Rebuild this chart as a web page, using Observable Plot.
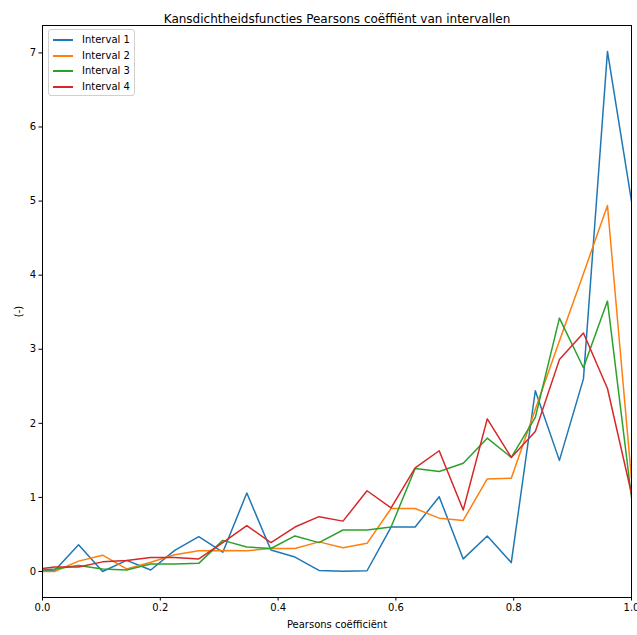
<!DOCTYPE html>
<html>
<head>
<meta charset="utf-8">
<script src="https://cdn.jsdelivr.net/npm/d3@7"></script>
<script src="https://cdn.jsdelivr.net/npm/@observablehq/plot@0.6"></script>
<style>
  body { margin: 0; background: #fff; font-family: "DejaVu Sans", sans-serif; }
  #wrap { position: relative; width: 637px; height: 635px; }
  #legend {
    position: absolute; left: 48px; top: 29px; width: 87px; height: 67px;
    border: 1px solid #d0d0d0; border-radius: 3px; background: rgba(255,255,255,0.8);
    font-size: 10px; color: #000; box-sizing: border-box;
  }
  .row { position: absolute; left: 0; height: 14px; }
  .sw { position: absolute; left: 4px; width: 20px; height: 2px; }
  .lab { position: absolute; left: 33px; white-space: nowrap; line-height: 14px; }
</style>
</head>
<body>
<div id="wrap"></div>
<script>
const xValues = [0, 0.0204, 0.0612, 0.102, 0.1429, 0.1837, 0.2245, 0.2653, 0.3061, 0.3469, 0.3878, 0.4286, 0.4694, 0.5102, 0.551, 0.5918, 0.6327, 0.6735, 0.7143, 0.7551, 0.7959, 0.8367, 0.8776, 0.9184, 0.9592, 1.0];
const interval1 = [0.01, 0.01, 0.36, 0.0, 0.15, 0.02, 0.285, 0.47, 0.26, 1.06, 0.29, 0.195, 0.015, 0.005, 0.01, 0.60, 0.60, 1.01, 0.17, 0.48, 0.12, 2.44, 1.50, 2.60, 7.02, 5.0];
const interval2 = [0.0, 0.0, 0.14, 0.22, 0.035, 0.125, 0.225, 0.28, 0.285, 0.28, 0.31, 0.31, 0.40, 0.32, 0.38, 0.85, 0.85, 0.72, 0.69, 1.25, 1.26, 2.19, 3.11, 4.02, 4.94, 1.25];
const interval3 = [0.02, 0.035, 0.08, 0.035, 0.02, 0.10, 0.10, 0.11, 0.42, 0.33, 0.31, 0.48, 0.39, 0.56, 0.56, 0.60, 1.39, 1.35, 1.46, 1.80, 1.54, 2.08, 3.42, 2.75, 3.65, 1.0];
const interval4 = [0.04, 0.06, 0.06, 0.13, 0.15, 0.19, 0.19, 0.17, 0.39, 0.62, 0.39, 0.60, 0.74, 0.68, 1.09, 0.86, 1.40, 1.63, 0.83, 2.06, 1.54, 1.89, 2.86, 3.22, 2.47, 1.05];
const seriesNames = ["Interval 1", "Interval 2", "Interval 3", "Interval 4"];
const seriesColors = ["#1f77b4", "#ff7f0e", "#2ca02c", "#d62728"];
const xTicks = [0, 0.2, 0.4, 0.6, 0.8, 1.0];
const yTicks = [0, 1, 2, 3, 4, 5, 6, 7];
const titleText = "Kansdichtheidsfuncties Pearsons coëffiënt van intervallen";
const xLabel = "Pearsons coëfficiënt";
const yLabel = "(-)";

const allSeries = [interval1, interval2, interval3, interval4];
const rows = [];
allSeries.forEach((vals, si) => vals.forEach((v, i) => rows.push({s: seriesNames[si], x: xValues[i], y: v})));

const lineMarks = seriesNames.map((name, si) =>
  Plot.line(rows.filter(d => d.s === name), {x: "x", y: "y", stroke: seriesColors[si], strokeWidth: 1.5, clip: true})
);

const chart = Plot.plot({
  width: 637,
  height: 635,
  marginLeft: 42,
  marginRight: 6,
  marginTop: 25,
  marginBottom: 38,
  style: {fontFamily: "DejaVu Sans, sans-serif", fontSize: "10px", color: "#000", background: "#fff"},
  x: {domain: [0, 1], ticks: xTicks, tickFormat: d3.format(".1f")},
  y: {domain: [-0.351, 7.37], ticks: yTicks},
  marks: [
    ...lineMarks,
    Plot.frame({stroke: "#000", strokeWidth: 1}),
    Plot.axisX({ticks: xTicks, tickFormat: d3.format(".1f"), tickSize: 3.5, tickPadding: 3, label: xLabel, labelAnchor: "center", labelArrow: "none", labelOffset: 30, fontSize: 10}),
    Plot.axisY({ticks: yTicks, tickSize: 3.5, tickPadding: 3, label: yLabel, labelAnchor: "center", labelArrow: "none", labelOffset: 28, fontSize: 10}),
    Plot.text([titleText], {frameAnchor: "top", dy: -11, fontSize: 12, fill: "#000"})
  ]
});
document.getElementById("wrap").appendChild(chart);

const legend = document.createElement("div");
legend.id = "legend";
seriesNames.forEach((name, i) => {
  const r = document.createElement("div");
  r.className = "row";
  r.style.top = (3 + i * 15.6) + "px";
  const sw = document.createElement("div");
  sw.className = "sw";
  sw.style.background = seriesColors[i];
  sw.style.top = "6px";
  const lb = document.createElement("div");
  lb.className = "lab";
  lb.textContent = name;
  r.appendChild(sw); r.appendChild(lb);
  legend.appendChild(r);
});
document.getElementById("wrap").appendChild(legend);
</script>
</body>
</html>
